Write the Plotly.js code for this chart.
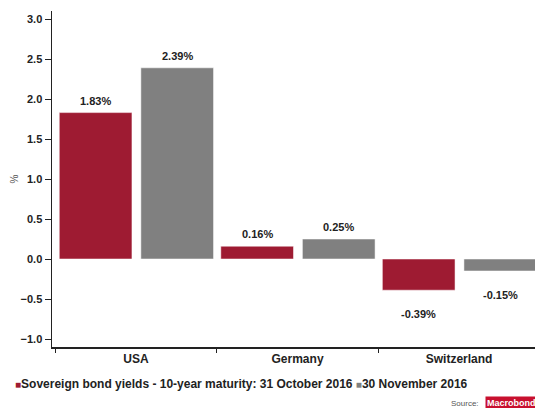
<!DOCTYPE html>
<html>
<head>
<meta charset="utf-8">
<script src="https://cdn.plot.ly/plotly-3.0.1.min.js"></script>
<style>html,body{margin:0;padding:0;background:#fff;}#chart{width:535px;height:408px;}</style>
</head>
<body>
<div id="chart"></div>
<script>
const categories = ["USA", "Germany", "Switzerland"];
const seriesNames = ["Sovereign bond yields - 10-year maturity: 31 October 2016", "30 November 2016"];
const oct2016 = [1.83, 0.16, -0.39];
const nov2016 = [2.39, 0.25, -0.15];
const yTickVals = [-1.0, -0.5, 0.0, 0.5, 1.0, 1.5, 2.0, 2.5, 3.0];

const colors = ["#9E1B32", "#808080"];
const offsets = [-0.475, 0.03];
const barWidth = 0.45;
const seriesValues = [oct2016, nov2016];

const traces = seriesValues.map((vals, i) => ({
  type: "bar",
  name: seriesNames[i],
  x: categories,
  y: vals,
  width: barWidth,
  offset: offsets[i],
  marker: {color: colors[i], line: {color: "rgba(255,255,255,0.5)", width: 1}},
  showlegend: false,
  hoverinfo: "x+y"
}));

const font = "Liberation Sans, Arial, sans-serif";
const annotations = [];
seriesValues.forEach((vals, i) => {
  vals.forEach((v, j) => {
    annotations.push({
      x: j + offsets[i] + barWidth / 2,
      y: v,
      xref: "x", yref: "y",
      text: v.toFixed(2) + "%",
      showarrow: false,
      yanchor: "middle",
      yshift: v >= 0 ? 12 : -24,
      font: {family: font, size: 11, color: "#222", weight: "bold"}
    });
  });
});

// legend line as text
const legendText = seriesNames.map((n, i) =>
  '<span style="color:' + colors[i] + ';font-size:10px">■</span>' + n).join(" ");
annotations.push({
  xref: "paper", yref: "paper", x: 0, y: 0,
  xanchor: "left", yanchor: "middle",
  xshift: -39, yshift: -37,
  text: legendText, showarrow: false,
  font: {family: font, size: 12, color: "#222", weight: "bold"}
});
annotations.push({
  xref: "paper", yref: "paper", x: 1, y: 0,
  xanchor: "right", yanchor: "middle",
  xshift: -54, yshift: -56,
  text: "Source:", showarrow: false,
  font: {family: font, size: 8, color: "#555"}
});
annotations.push({
  xref: "paper", yref: "paper", x: 1, y: 0,
  xanchor: "left", yanchor: "middle",
  xshift: -50, yshift: -56,
  text: "Macrobond", showarrow: false,
  bgcolor: "#C8102E", borderpad: 1,
  font: {family: font, size: 9, color: "#fff", weight: "bold"}
});

const layout = {
  width: 535, height: 408,
  margin: {l: 52, r: 0, t: 11, b: 61},
  paper_bgcolor: "#fff", plot_bgcolor: "#fff",
  barmode: "overlay",
  showlegend: false,
  xaxis: {
    type: "category",
    range: [-0.52, 2.47],
    showline: true, linecolor: "#222", linewidth: 1.5,
    ticks: "outside", tickson: "boundaries", ticklen: 4, tickcolor: "#222", tickwidth: 1,
    showgrid: false, zeroline: false,
    tickfont: {family: font, size: 12, color: "#222", weight: "bold"}
  },
  yaxis: {
    range: [-1.1, 3.1],
    tickvals: yTickVals,
    tickformat: ".1f",
    showline: true, linecolor: "#222", linewidth: 1.5,
    ticks: "outside", ticklen: 6, tickcolor: "#222", tickwidth: 1,
    showgrid: false, zeroline: false,
    tickfont: {family: font, size: 11, color: "#222", weight: "bold"},
    title: {text: "%", font: {family: font, size: 10, color: "#555"}, standoff: 0}
  },
  annotations: annotations
};

Plotly.newPlot("chart", traces, layout, {displayModeBar: false, staticPlot: true});
</script>
</body>
</html>
